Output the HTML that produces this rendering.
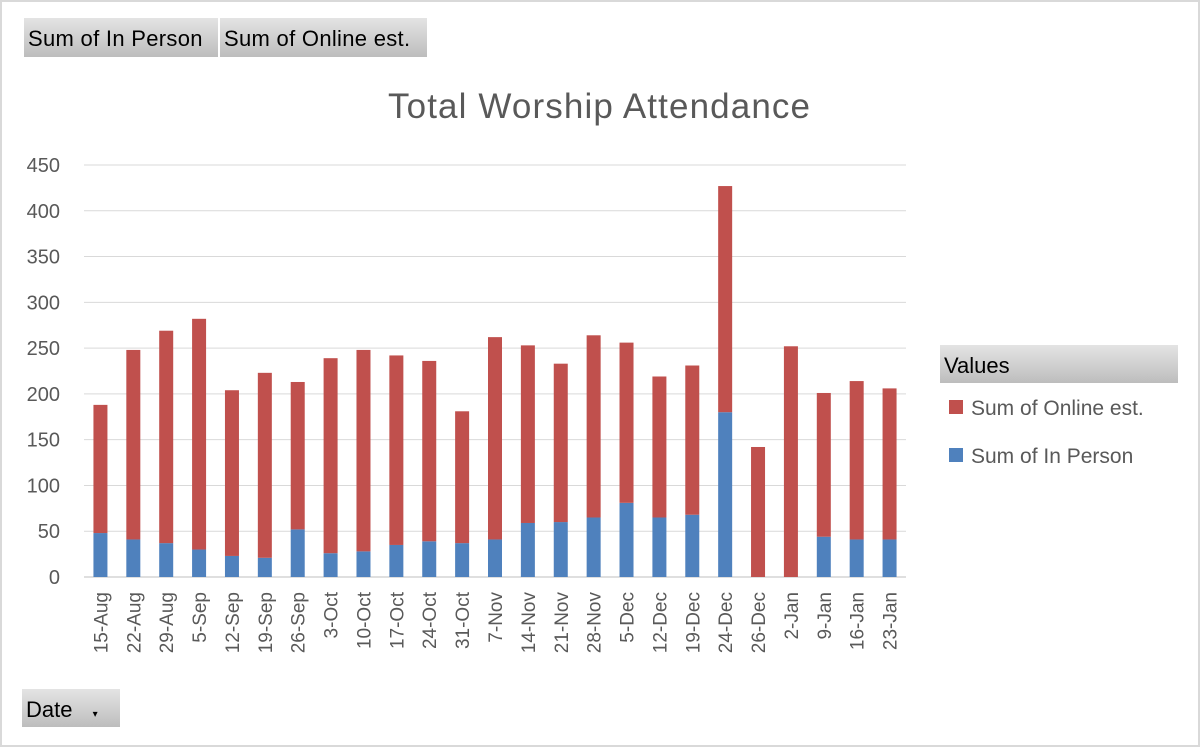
<!DOCTYPE html>
<html><head><meta charset="utf-8"><style>
body{margin:0;width:1200px;height:747px;overflow:hidden;background:#fff;font-family:"Liberation Sans","DejaVu Sans",sans-serif}
#frame{position:absolute;left:0;top:0;width:1196px;height:743px;border:2px solid #d9d9d9}
.btn{position:absolute;height:39px;background:linear-gradient(#e4e4e4,#bdbdbd);color:#000;font-size:22px;line-height:42px;padding-left:4px;box-sizing:border-box;white-space:nowrap}
</style></head><body>
<div id="frame"></div>
<div class="btn" style="left:24px;top:18px;width:194px;letter-spacing:0.3px">Sum of In Person</div>
<div class="btn" style="left:220px;top:18px;width:207px;letter-spacing:0.3px">Sum of Online est.</div>
<div class="btn" style="left:940px;top:345px;width:238px;height:38px">Values</div>
<div class="btn" style="left:22px;top:689px;width:98px;height:38px">Date <span style="font-size:10px;margin-left:14px">▾</span></div>
<svg id="chart" width="1200" height="747" style="position:absolute;left:0;top:0">
<text x="599" y="118" text-anchor="middle" font-size="35" textLength="422" fill="#595959">Total Worship Attendance</text>
<g id="grid"></g><g id="bars"></g><g id="xl"></g>
<rect x="949" y="400" width="14" height="14" fill="#c0504d"/>
<text x="971" y="415" font-size="21" fill="#595959">Sum of Online est.</text>
<rect x="949" y="448" width="14" height="14" fill="#4f81bd"/>
<text x="971" y="463" font-size="21" fill="#595959">Sum of In Person</text>
</svg>
<script>
const categories=["15-Aug","22-Aug","29-Aug","5-Sep","12-Sep","19-Sep","26-Sep","3-Oct","10-Oct","17-Oct","24-Oct","31-Oct","7-Nov","14-Nov","21-Nov","28-Nov","5-Dec","12-Dec","19-Dec","24-Dec","26-Dec","2-Jan","9-Jan","16-Jan","23-Jan"];
const inPerson=[48,41,37,30,23,21,52,26,28,35,39,37,41,59,60,65,81,65,68,180,0,0,44,41,41];
const online=[140,207,232,252,181,202,161,213,220,207,197,144,221,194,173,199,175,154,163,247,142,252,157,173,165];
const yTicks=[0,50,100,150,200,250,300,350,400,450];
const NS="http://www.w3.org/2000/svg";
const x0=84,x1=906,y0=577,yTop=165,yMax=450;
const y=v=>y0-(v/yMax)*(y0-yTop);
const step=(x1-x0)/categories.length;
const xc=i=>x0+step*(i+0.5);
function mk(t,a,p){const e=document.createElementNS(NS,t);for(const k in a)e.setAttribute(k,a[k]);p.appendChild(e);return e;}
const g=document.getElementById('grid'),b=document.getElementById('bars'),xl=document.getElementById('xl');
yTicks.forEach(t=>{
 const l=mk('line',{x1:x0,x2:x1,y1:y(t),y2:y(t),stroke:t===0?'#bfbfbf':'#d9d9d9','stroke-width':1},g);
 
 
 const tx=mk('text',{x:60,y:y(t)+7,'text-anchor':'end','font-size':20,fill:'#595959'},g);
 tx.textContent=t;
 
 
});
const bw=14;
categories.forEach((c,i)=>{
 const r1=mk('rect',{x:xc(i)-bw/2,y:y(inPerson[i]),width:bw,height:y0-y(inPerson[i]),fill:'#4f81bd'},b);
 
 
 const tot=inPerson[i]+online[i];
 const r2=mk('rect',{x:xc(i)-bw/2,y:y(tot),width:bw,height:y(inPerson[i])-y(tot),fill:'#c0504d'},b);
 
 
 const t=mk('text',{x:0,y:0,'text-anchor':'end','font-size':19,fill:'#595959',transform:`translate(${xc(i)+7},${y0+15}) rotate(-90)`},xl);
 t.textContent=c;
 
 
});
</script>
</body></html>
